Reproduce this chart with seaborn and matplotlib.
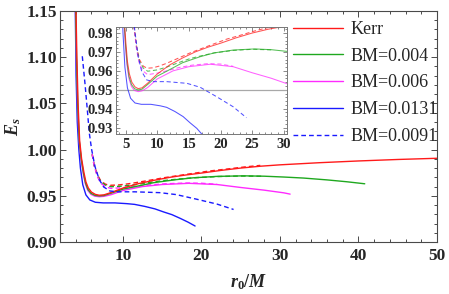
import numpy as np
import pandas as pd
import matplotlib
matplotlib.use("Agg")
import matplotlib.pyplot as plt
import seaborn as sns
from matplotlib.ticker import MultipleLocator, FormatStrFormatter

# ---------------- data ----------------
kerr_x = [4.04, 4.15, 4.3, 4.5, 4.75, 5.05, 5.3, 5.6, 6.0, 6.5, 7.0, 7.6, 8.5, 10, 12, 14, 16, 18, 20, 22.5, 25, 27.5, 30, 35, 40, 45, 50]
kerr_y = [1.15, 1.10, 1.05, 1.01, 0.99, 0.975, 0.965, 0.9585, 0.954, 0.9515, 0.9506, 0.951, 0.9535, 0.9583, 0.9632, 0.9668, 0.970, 0.9725, 0.9746, 0.9775, 0.980, 0.982, 0.9835, 0.9858, 0.9877, 0.9893, 0.9906]

bm004_x = [4.0, 4.1, 4.25, 4.45, 4.7, 5.0, 5.25, 5.55, 5.95, 6.45, 7.0, 7.6, 8.5, 10, 11.5, 14, 16.8, 19, 22, 25.4, 28, 30.5, 33, 36, 38.5, 40.8]
bm004_y = [1.15, 1.10, 1.05, 1.01, 0.99, 0.974, 0.964, 0.957, 0.9527, 0.9505, 0.9499, 0.9503, 0.9528, 0.9572, 0.9598, 0.9643, 0.9675, 0.9695, 0.971, 0.9716, 0.9712, 0.9703, 0.9692, 0.9672, 0.9652, 0.963]

bm006_x = [3.98, 4.08, 4.23, 4.43, 4.68, 4.98, 5.23, 5.53, 5.93, 6.43, 7.0, 7.6, 8.5, 10, 12.5, 15, 18.4, 22, 25, 28, 30.5, 31.3]
bm006_y = [1.15, 1.10, 1.05, 1.01, 0.99, 0.973, 0.963, 0.956, 0.9517, 0.9496, 0.949, 0.9494, 0.9512, 0.9557, 0.960, 0.9622, 0.9635, 0.9622, 0.959, 0.9561, 0.9532, 0.9518]

bm0131_x = [3.95, 4.05, 4.2, 4.4, 4.6, 4.9, 5.3, 5.8, 6.5, 7.5, 9.0, 10.5, 11.5, 12.8, 14.1, 15.2, 16.25, 17.3, 18.3, 19.2]
bm0131_y = [1.15, 1.08, 1.03, 1.0, 0.98, 0.962, 0.951, 0.9455, 0.943, 0.9423, 0.9423, 0.9415, 0.9407, 0.9385, 0.9358, 0.9325, 0.9296, 0.9256, 0.9215, 0.9173]

bm0091_x = [4.84, 5.18, 5.48, 5.73, 6.03, 6.46, 7.0, 7.56, 8.35, 9.4, 11.5, 14.7, 16.8, 19.4, 22.0, 24.1]
bm0091_y = [1.101, 1.0717, 1.043, 1.018, 1.0, 0.9815, 0.9675, 0.9596, 0.9552, 0.9543, 0.9543, 0.9534, 0.9513, 0.9463, 0.941, 0.9352]

# dashed companions (no legend entry)
kerr_d_x = [6.1, 6.35, 6.75, 7.2, 7.8, 8.4, 9.3, 10.3, 11.5, 13.2, 15.2, 17.0, 18.9, 21.0, 23.1, 25.5, 27.5]
kerr_d_y = [0.995, 0.983, 0.973, 0.966, 0.9625, 0.9614, 0.9616, 0.9625, 0.964, 0.9665, 0.9695, 0.9718, 0.9742, 0.9768, 0.9788, 0.9812, 0.9829]

bm004_d_x = [6.1, 6.35, 6.75, 7.2, 7.8, 8.5, 10, 11.5, 13.5, 15.2, 17, 19, 22, 25, 28]
bm004_d_y = [0.995, 0.983, 0.972, 0.965, 0.9615, 0.9598, 0.9605, 0.962, 0.9645, 0.9665, 0.968, 0.9695, 0.9708, 0.9714, 0.9711]

bm006_d_x = [6.1, 6.35, 6.75, 7.2, 7.8, 8.5, 10, 11.5, 13.5, 15.5, 18, 20, 22]
bm006_d_y = [0.995, 0.983, 0.971, 0.9635, 0.9598, 0.958, 0.9588, 0.960, 0.9618, 0.963, 0.9638, 0.9636, 0.9624]

labels = ["Kerr", "BM=0.004", "BM=0.006", "BM=0.0131", "BM=0.0091"]

RED, GREEN, MAG, BLUE = "#ff1a1a", "#1fa81f", "#ff2bff", "#1a1aff"
DASH_MAIN = (3.4, 2.2)
DASH_IN = (4.0, 2.6)

# ---------------- styling ----------------
sns.set_theme(style="ticks")
plt.rcParams["font.family"] = ["Liberation Serif", "DejaVu Serif"]
plt.rcParams["font.weight"] = "bold"
plt.rcParams["mathtext.fontset"] = "custom"
plt.rcParams["mathtext.rm"] = "Liberation Serif:bold"
plt.rcParams["mathtext.it"] = "Liberation Serif:bold:italic"
plt.rcParams["mathtext.bf"] = "Liberation Serif:bold"

fig = plt.figure(figsize=(4.49, 2.94), dpi=100)
fig.patch.set_facecolor("white")
ax = fig.add_axes([0.1336, 0.1769, 0.8397, 0.7857])


def draw(a, x, y, color, lw, dashed=False, dashes=None, label=None, alpha=1.0, z=2):
    df = pd.DataFrame({"x": x, "y": y})
    n_before = len(a.lines)
    sns.lineplot(data=df, x="x", y="y", ax=a, color=color, linewidth=lw,
                 sort=False, estimator=None, label=label, alpha=alpha, zorder=z)
    line = a.lines[n_before]
    if dashed:
        line.set_dashes(dashes)
    return line


def all_curves(a, lw, dashes, alpha, with_labels):
    h = {}
    draw(a, kerr_d_x, kerr_d_y, RED, lw, True, dashes, alpha=alpha)
    draw(a, bm004_d_x, bm004_d_y, GREEN, lw, True, dashes, alpha=alpha)
    draw(a, bm006_d_x, bm006_d_y, MAG, lw, True, dashes, alpha=alpha)
    h[3] = draw(a, bm0131_x, bm0131_y, BLUE, lw, label=labels[3] if with_labels else None, alpha=alpha)
    h[2] = draw(a, bm006_x, bm006_y, MAG, lw, label=labels[2] if with_labels else None, alpha=alpha)
    h[1] = draw(a, bm004_x, bm004_y, GREEN, lw, label=labels[1] if with_labels else None, alpha=alpha)
    h[0] = draw(a, kerr_x, kerr_y, RED, lw, label=labels[0] if with_labels else None, alpha=alpha)
    h[4] = draw(a, bm0091_x, bm0091_y, BLUE, lw, True, dashes,
                label=labels[4] if with_labels else None, alpha=alpha, z=3)
    return [h[i] for i in range(5)]


handles = all_curves(ax, 1.0, DASH_MAIN, 1.0, True)

ax.set_xlim(2, 50)
ax.set_ylim(0.90, 1.15)
ax.xaxis.set_major_locator(MultipleLocator(10))
ax.xaxis.set_minor_locator(MultipleLocator(2))
ax.yaxis.set_major_locator(MultipleLocator(0.05))
ax.yaxis.set_minor_locator(MultipleLocator(0.01))
ax.xaxis.set_major_formatter(FormatStrFormatter("%d"))
ax.yaxis.set_major_formatter(FormatStrFormatter("%.2f"))
FRAME = "#4a4a4a"
for s in ax.spines.values():
    s.set_color(FRAME)
    s.set_linewidth(0.8)
ax.tick_params(which="both", direction="in", top=True, right=True, color=FRAME, width=0.7)
ax.tick_params(which="major", length=4.0, labelsize=12.5)
ax.tick_params(which="minor", length=2.2)
ax.tick_params(axis="x", which="major", pad=4)
ax.tick_params(axis="y", which="major", pad=2)
ax.set_xlabel("$r_0/M$", fontsize=13, labelpad=6)
ax.set_ylabel("$E_s$", fontsize=13, labelpad=3)

leg = ax.legend(handles=handles, labels=labels, loc="upper left",
                bbox_to_anchor=(0.618, 0.957), frameon=False,
                prop={"family": "Liberation Serif", "weight": "normal", "size": 13},
                handlelength=2.75, handletextpad=0.45, labelspacing=0.54,
                borderpad=0.0, borderaxespad=0.0)

# ---------------- inset ----------------
axi = fig.add_axes([0.2584, 0.5442, 0.3808, 0.364])
axi.set_facecolor("white")
axi.axhline(0.95, color="#a8a8a8", lw=0.9, zorder=1)
all_curves(axi, 0.75, DASH_IN, 0.75, False)
if axi.get_legend() is not None:
    axi.get_legend().remove()
axi.set_xlim(3.5, 30.5)
axi.set_ylim(0.9266, 0.9832)
axi.xaxis.set_major_locator(MultipleLocator(5))
axi.xaxis.set_minor_locator(MultipleLocator(1))
axi.yaxis.set_major_locator(MultipleLocator(0.01))
axi.yaxis.set_minor_locator(MultipleLocator(0.002))
axi.xaxis.set_major_formatter(FormatStrFormatter("%d"))
axi.yaxis.set_major_formatter(FormatStrFormatter("%.2f"))
for s in axi.spines.values():
    s.set_color("#777777")
    s.set_linewidth(0.7)
axi.tick_params(which="both", direction="in", top=True, right=True, color="#777777", width=0.6)
axi.tick_params(which="major", length=3.0, labelsize=10.5)
axi.tick_params(which="minor", length=1.6)
axi.tick_params(axis="x", which="major", pad=3)
axi.tick_params(axis="y", which="major", pad=2)
axi.set_xlabel("")
axi.set_ylabel("")

fig.savefig("out.png", dpi=100, facecolor="white")
